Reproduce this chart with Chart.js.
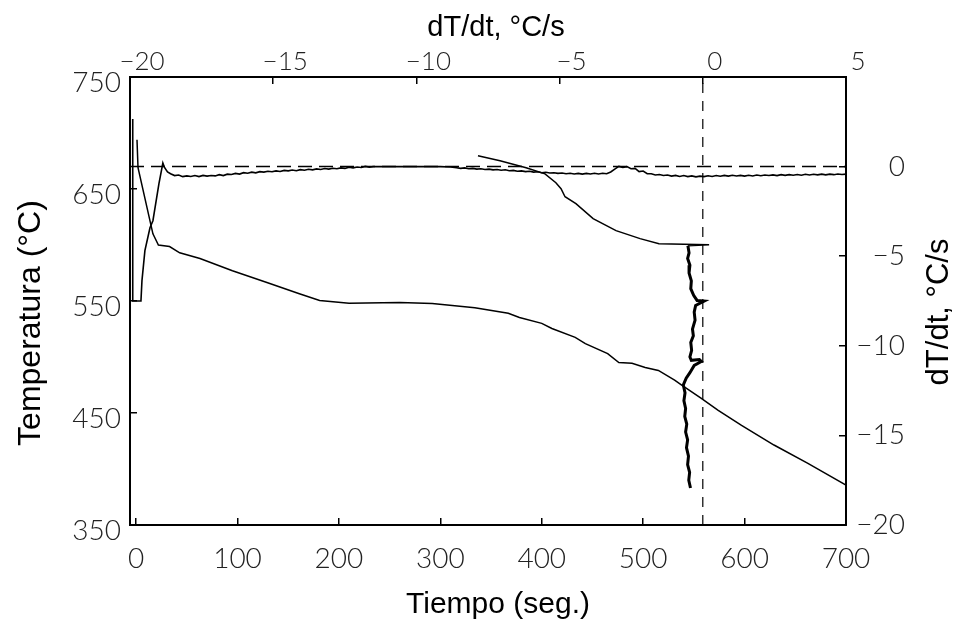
<!DOCTYPE html>
<html>
<head>
<meta charset="utf-8">
<title>Temperatura y dT/dt</title>
<script src="https://cdn.jsdelivr.net/npm/chart.js@4"></script>
<style>
html,body{margin:0;padding:0;background:#fff;}
canvas{display:block;}
</style>
</head>
<body>
<canvas id="grafico" width="956" height="625"></canvas>
<script>

// ================= DATOS =================

// rangos de los ejes
let rangoTiempo = [-6, 700];
let rangoTemp = [350, 750];
let rangoDeriv = [-20, 5];

// marcas de los ejes
let ticksTiempo = [0, 100, 200, 300, 400, 500, 600, 700];
let ticksTemp = [350, 450, 550, 650, 750];
let ticksDerivArriba = [-20, -15, -10, -5, 0, 5];
let ticksDerivDerecha = [-20, -15, -10, -5, 0];

// temperatura vs tiempo
let tiempoTemp = [0.9, 1.9, 16.6, 22, 33, 43, 63, 95, 129, 161, 181, 210, 260, 292, 334, 367, 378, 400, 410, 433, 443, 465, 476, 489, 502, 515, 531, 538, 557, 574, 597, 629, 662, 700];
let temperatura = [694, 669, 610, 600, 598.6, 593, 588, 577, 566.5, 556.5, 550.5, 548, 548.7, 547.8, 544, 539, 535.3, 530, 525.5, 517.5, 512, 503, 495, 494.4, 490.7, 488, 479.3, 474.8, 463.3, 452.4, 439, 421.4, 405.3, 385.7];

// dT/dt vs tiempo
let tiempoDeriv = [
-3.3, -3.3, 4.8, 5.8, 8.7, 13.7, 16.6, 22.5, 26.4, 28, 31,
34, 38, 42, 46, 50, 54, 58, 62, 66, 70, 74, 78, 82, 86, 90, 94, 98, 102, 106, 110, 114, 118, 122, 126, 130, 134, 138, 142, 146, 150, 154, 158, 162, 166, 170, 174, 178, 182, 186, 190, 194, 198, 202, 206, 210, 214, 218, 222, 226, 230, 234,
240, 270, 300, 310,
316, 320, 324, 328, 332, 336, 340, 344, 348, 352, 356, 360, 364, 368, 372, 376, 380, 384, 388, 392, 396, 400, 404, 408, 412, 416, 420, 424, 428, 432, 436, 440, 444, 448, 452, 456, 460, 464, 468, 472, 476, 480, 484, 488, 492, 496, 500, 504,
508, 512, 516, 520, 524, 528, 532, 536, 540, 544, 548, 552, 556, 560, 564, 568, 572, 576, 580, 584, 588, 592, 596, 600, 604, 608, 612, 616, 620, 624, 628, 632, 636, 640, 644, 648, 652, 656, 660, 664, 668, 672, 676, 680, 684, 688, 692, 696, 700
];
let derivada = [
2.66, -7.5, -7.5, -6.36, -4.69, -3.41, -3.02, -0.96, 0.2, -0.05, -0.3,
-0.4, -0.5, -0.47, -0.56, -0.52, -0.55, -0.5, -0.56, -0.49, -0.53, -0.5, -0.52, -0.45, -0.5, -0.42, -0.44, -0.38, -0.42, -0.34, -0.37, -0.31, -0.35, -0.28, -0.31, -0.26, -0.29, -0.24, -0.27, -0.21, -0.24, -0.19, -0.23, -0.17, -0.2, -0.15, -0.18, -0.13, -0.16, -0.11, -0.14, -0.09, -0.12, -0.07, -0.1, -0.03, -0.07, -0.02, -0.05, 0.01, -0.03, 0,
0, 0, 0, -0.02,
-0.06, -0.1, -0.07, -0.12, -0.1, -0.14, -0.12, -0.16, -0.14, -0.18, -0.16, -0.2, -0.18, -0.23, -0.21, -0.26, -0.24, -0.28, -0.26, -0.31, -0.29, -0.34, -0.32, -0.36, -0.34, -0.38, -0.36, -0.4, -0.37, -0.41, -0.38, -0.42, -0.38, -0.41, -0.37, -0.41, -0.37, -0.4, -0.3, -0.14, 0.01, -0.04, 0, -0.12, -0.1, -0.28, -0.25, -0.4,
-0.4, -0.47, -0.44, -0.5, -0.47, -0.53, -0.49, -0.55, -0.5, -0.56, -0.52, -0.57, -0.53, -0.56, -0.51, -0.55, -0.5, -0.54, -0.49, -0.53, -0.48, -0.52, -0.49, -0.53, -0.48, -0.52, -0.47, -0.51, -0.47, -0.5, -0.46, -0.5, -0.45, -0.49, -0.45, -0.48, -0.44, -0.48, -0.43, -0.47, -0.43, -0.46, -0.42, -0.46, -0.42, -0.45, -0.41, -0.44, -0.42
];

// temperatura vs dT/dt (eje superior)
let derivFase = [-7.85, -7.08, -6.17, -5.51, -5.13, -4.95, -4.81, -4.43, -3.83, -3.03, -2.19, -1.53, 0.22, -0.52];
let tempFase = [679.6, 675.2, 668.9, 663.5, 655.6, 650.2, 643.1, 636.9, 623.5, 612.8, 605.7, 601.2, 600.3, 599.4];

// tramo con ruido, casi vertical
let derivRuido = [-0.52, -0.48, -0.53, -0.45, -0.48, -0.4, -0.42, -0.32, -0.2, 0.05, -0.25, -0.3, -0.27, -0.36, -0.33, -0.42, -0.39, -0.45, -0.4, -0.12, -0.05, -0.3, -0.45, -0.58, -0.68, -0.62, -0.66, -0.6, -0.63, -0.56, -0.6, -0.53, -0.57, -0.5, -0.53, -0.46, -0.49, -0.43];
let tempRuido = [599.4, 593, 588, 582, 575, 568, 561, 555, 550.5, 550, 546, 540, 533, 525, 519, 513, 506, 500, 497, 497.8, 496, 492.5, 486, 481, 475, 468, 461, 454, 447, 440, 433, 426, 419, 411.5, 404, 397, 390, 383];


// ================= AYUDAS =================

function puntos(xs, ys){
return xs.map((x, i) => ({x: x, y: ys[i]}));
}

let fuenteTick = {family: 'Lato, "Open Sans", sans-serif', size: 28, weight: '300'};
let familiaTitulo = '"Liberation Sans", Arial, sans-serif';

function menos(v){
return String(v).replace('-', '\u2212');
}

function rejilla(){
return {drawOnChartArea: false, drawTicks: true, tickLength: -7, color: '#000', lineWidth: 1.5};
}

function borde(){
return {display: true, color: '#000', width: 2};
}

// titulos de los ejes (los verticales se leen de abajo hacia arriba)
function escribir(ctx, texto, x, y, size, vertical){
ctx.save();
ctx.translate(x, y);
if(vertical) ctx.rotate(-Math.PI / 2);
ctx.font = size + 'px ' + familiaTitulo;
ctx.fillStyle = '#000';
ctx.textAlign = 'center';
ctx.textBaseline = 'alphabetic';
ctx.fillText(texto, 0, 0);
ctx.restore();
}

let titulos = {
id: 'titulos',
afterDraw(chart){
let ctx = chart.ctx;
escribir(ctx, 'dT/dt, \u00B0C/s', 496, 36, 29, false);
escribir(ctx, 'Tiempo (seg.)', 498, 613, 30, false);
escribir(ctx, 'Temperatura (\u00B0C)', 40, 323, 32, true);
escribir(ctx, 'dT/dt, \u00B0C/s', 948, 312, 31, true);
}
};


// ================= GRAFICO =================

let ctx = document.getElementById('grafico').getContext('2d');

let chart = new Chart(ctx, {
type: 'scatter',
data: {
datasets: [
{
data: puntos(tiempoTemp, temperatura),
xAxisID: 'x', yAxisID: 'y',
borderWidth: 1.5
},
{
data: puntos(tiempoDeriv, derivada),
xAxisID: 'x', yAxisID: 'y2',
borderWidth: 1.6
},
{
data: puntos(derivFase, tempFase),
xAxisID: 'x2', yAxisID: 'y',
borderWidth: 1.5
},
{
data: puntos(derivRuido, tempRuido),
xAxisID: 'x2', yAxisID: 'y',
borderWidth: 3
},
{
// linea de dT/dt = 0 (eje derecho)
data: puntos(rangoTiempo, [0, 0]),
xAxisID: 'x', yAxisID: 'y2',
borderWidth: 1.5,
borderDash: [14, 7]
},
{
// linea de dT/dt = 0 (eje superior)
data: puntos([0, 0], rangoTemp),
xAxisID: 'x2', yAxisID: 'y',
borderWidth: 1.2,
borderDash: [10, 8]
}
]
},
options: {
responsive: false,
animation: false,
showLine: true,
layout: {padding: {left: 0, top: 0, bottom: 0, right: 51}, autoPadding: false},
elements: {
point: {radius: 0},
line: {borderColor: '#000', tension: 0, fill: false}
},
plugins: {
legend: {display: false},
tooltip: {enabled: false}
},
scales: {
x: {
type: 'linear', position: 'bottom',
min: rangoTiempo[0], max: rangoTiempo[1],
afterBuildTicks: s => { s.ticks = ticksTiempo.map(v => ({value: v})); },
afterFit: s => { s.height = 100; },
ticks: {font: fuenteTick, color: '#222', padding: 24, maxRotation: 0},
grid: rejilla(), border: borde()
},
x2: {
type: 'linear', position: 'top',
min: rangoDeriv[0], max: rangoDeriv[1],
afterBuildTicks: s => { s.ticks = ticksDerivArriba.map(v => ({value: v})); },
afterFit: s => { s.height = 77; },
ticks: {font: {family: fuenteTick.family, size: 26, weight: '300'}, color: '#222', padding: 7, labelOffset: 12, maxRotation: 0, callback: menos},
grid: rejilla(), border: borde()
},
y: {
type: 'linear', position: 'left',
min: rangoTemp[0], max: rangoTemp[1],
afterBuildTicks: s => { s.ticks = ticksTemp.map(v => ({value: v})); },
afterFit: s => { s.width = 130; },
ticks: {font: fuenteTick, color: '#222', padding: 16, labelOffset: 6},
grid: rejilla(), border: borde()
},
y2: {
type: 'linear', position: 'right',
min: rangoDeriv[0], max: rangoDeriv[1],
afterBuildTicks: s => { s.ticks = ticksDerivDerecha.map(v => ({value: v})); },
afterFit: s => { s.width = 59; },
ticks: {font: fuenteTick, color: '#222', padding: 10, crossAlign: 'far', callback: menos},
grid: rejilla(), border: borde()
}
}
},
plugins: [titulos]
});

</script>
</body>
</html>
